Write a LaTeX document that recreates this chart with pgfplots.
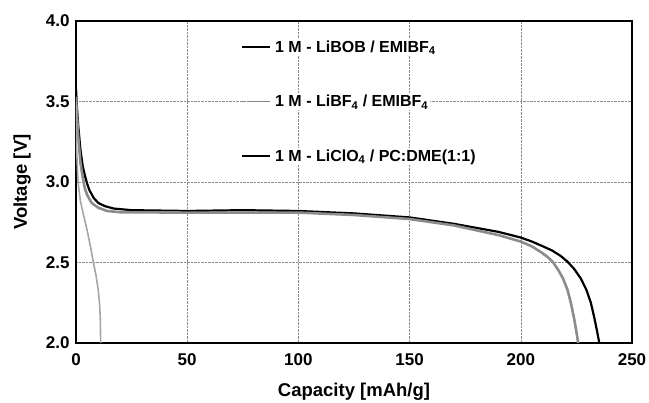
\documentclass[border=0pt]{standalone}
\usepackage{fontspec}
\setmainfont{Liberation Sans}
\usepackage{pgfplots}
\pgfplotsset{compat=1.18}

\begin{document}
\begin{tikzpicture}
\begin{axis}[
    name=ax, scale only axis, width=556pt, height=322pt,
    xmin=0, xmax=250, ymin=2.0, ymax=4.0,
    xtick={0,50,100,150,200,250}, ytick={2.0,2.5,3.0,3.5,4.0},
    yticklabel style={/pgf/number format/fixed, /pgf/number format/fixed zerofill,
        /pgf/number format/precision=1, xshift=-3pt},
    /pgf/number format/assume math mode=true,
    tick label style={font=\fontsize{17}{19}\selectfont\bfseries},
    label style={font=\fontsize{18.5}{20}\selectfont\bfseries},
    xlabel={Capacity [mAh/g]}, ylabel={Voltage [V]},
    xlabel style={at={(axis description cs:0.5,-0.15)}, anchor=center},
    ylabel style={at={(axis description cs:-0.097,0.5)}, anchor=center},
    xticklabel style={yshift=-7pt},
    major tick length=0pt,
    axis line style={line width=1.8pt},
    grid=major, grid style={black!45, densely dotted, line width=0.6pt},
    legend cell align=left,
    legend style={at={(axis cs:73,3.905)}, anchor=north west, draw=none, fill=none,
        row sep=37.5pt, font=\fontsize{16}{18}\selectfont\bfseries,
        nodes={fill=white, inner sep=2pt}},
]
% LiBOB / EMIBF4
\addplot[black, line width=2.2pt, forget plot] coordinates {
(0,3.58) (0.5,3.45) (1,3.35) (2,3.2) (3,3.1) (4,3.04) (5,2.99) (6,2.95) (8,2.9)
(10,2.87) (13,2.85) (17,2.835) (25,2.825) (50,2.82) (75,2.825) (100,2.82)
(125,2.805) (150,2.78) (170,2.74) (190,2.69) (200,2.655) (205,2.63) (210,2.60)
(214,2.575) (218,2.54) (221,2.505) (224,2.46) (227,2.40) (229.5,2.33)
(231.5,2.25) (233,2.16) (234.2,2.08) (235.3,2.0)};
% LiBF4 / EMIBF4
\addplot[black!45, line width=2.6pt, forget plot] coordinates {
(0,3.53) (0.5,3.4) (1,3.28) (2,3.12) (3,3.03) (4,2.96) (5,2.92) (7,2.87) (10,2.84)
(14,2.82) (20,2.812) (50,2.81) (100,2.81) (125,2.795) (150,2.77) (170,2.73)
(190,2.67) (200,2.63) (205,2.6) (209,2.565) (212,2.535) (214.6,2.5) (217,2.45)
(219,2.4) (221,2.33) (222.5,2.25) (224,2.15) (225,2.07) (225.8,2.0)};
% LiClO4 / PC:DME
\addplot[black!35, line width=1.6pt, forget plot] coordinates {
(0,3.5) (0.3,3.2) (0.9,3.0) (2,2.88) (3.3,2.8) (5,2.7) (6.5,2.6) (7.8,2.5)
(9,2.42) (10,2.33) (10.6,2.24) (10.9,2.16) (11.1,2.0)};
\addlegendimage{legend image code/.code={\draw[black, line width=1.6pt] (0pt,0pt) -- (28pt,0pt);}}
\addlegendentry{\hspace{2pt}1 M - LiBOB / EMIBF\textsubscript{4}}
\addlegendimage{legend image code/.code={\draw[black!50, line width=1.4pt, dash pattern=on 1.5pt off 0.7pt] (0pt,0pt) -- (28pt,0pt);}}
\addlegendentry{\hspace{2pt}1 M - LiBF\textsubscript{4} / EMIBF\textsubscript{4}}
\addlegendimage{legend image code/.code={\draw[black, line width=1.6pt] (0pt,0pt) -- (28pt,0pt);}}
\addlegendentry{\hspace{2pt}1 M - LiClO\textsubscript{4} / PC:DME(1:1)}
\end{axis}
\pgfresetboundingbox
\path ([xshift=-76pt,yshift=-60pt]ax.south west) rectangle ([xshift=17pt,yshift=21pt]ax.north east);
\end{tikzpicture}
\end{document}
